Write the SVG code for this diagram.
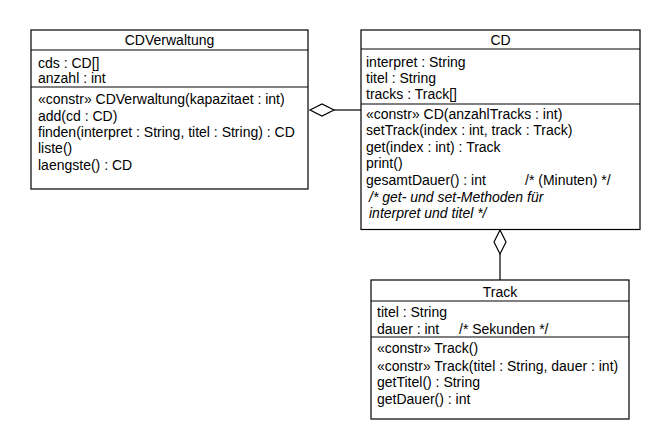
<svg xmlns="http://www.w3.org/2000/svg" width="660" height="440" viewBox="0 0 660 440">
<style>
.box{fill:#fff;stroke:#000;stroke-width:1.2}
.sep{stroke:#000;stroke-width:1.2}
text{font-family:"Liberation Sans",Arial,sans-serif;font-size:14px;fill:#000}
.t{text-anchor:middle}
.i{font-style:italic}
.line{stroke:#000;stroke-width:1.2;fill:none}
.dia{fill:#fff;stroke:#000;stroke-width:1.2}
</style>
<rect width="660" height="440" fill="#fff"/>
<g id="connectors">
<line class="line" x1="334" y1="110" x2="361" y2="110"/>
<polygon class="dia" points="310,110 322,104 334,110 322,116"/>
<line class="line" x1="500" y1="254" x2="500" y2="280"/>
<polygon class="dia" points="500,230 506,242 500,254 494,242"/>
</g>
<g id="CDVerwaltung">
<rect class="box" x="31" y="30" width="277" height="159"/>
<line class="sep" x1="31" y1="50" x2="308" y2="50"/>
<line class="sep" x1="31" y1="87" x2="308" y2="87"/>
<text class="t" x="169.5" y="45">CDVerwaltung</text>
<text x="38" y="68">cds : CD[]</text>
<text x="38" y="83">anzahl : int</text>
<text x="38" y="104">«constr» CDVerwaltung(kapazitaet : int)</text>
<text x="38" y="121">add(cd : CD)</text>
<text x="38" y="137">finden(interpret : String, titel : String) : CD</text>
<text x="38" y="153">liste()</text>
<text x="38" y="170">laengste() : CD</text>
</g>
<g id="CD">
<rect class="box" x="361" y="30" width="279" height="199.5"/>
<line class="sep" x1="361" y1="49" x2="640" y2="49"/>
<line class="sep" x1="361" y1="104" x2="640" y2="104"/>
<text class="t" x="500.5" y="45">CD</text>
<text x="366" y="67">interpret : String</text>
<text x="366" y="83">titel : String</text>
<text x="366" y="99">tracks : Track[]</text>
<text x="366" y="119">«constr» CD(anzahlTracks : int)</text>
<text x="366" y="135">setTrack(index : int, track : Track)</text>
<text x="366" y="152">get(index : int) : Track</text>
<text x="366" y="168">print()</text>
<text x="366" y="185">gesamtDauer() : int<tspan x="525">/* (Minuten) */</tspan></text>
<text class="i" x="369" y="202">/* get- und set-Methoden für</text>
<text class="i" x="369" y="218">interpret und titel */</text>
</g>
<g id="Track">
<rect class="box" x="371" y="280" width="258" height="139"/>
<line class="sep" x1="371" y1="301" x2="629" y2="301"/>
<line class="sep" x1="371" y1="337" x2="629" y2="337"/>
<text class="t" x="500" y="297">Track</text>
<text x="377" y="317">titel : String</text>
<text x="377" y="334">dauer : int<tspan x="459">/* Sekunden */</tspan></text>
<text x="377" y="353">«constr» Track()</text>
<text x="377" y="371">«constr» Track(titel : String, dauer : int)</text>
<text x="377" y="387">getTitel() : String</text>
<text x="377" y="404">getDauer() : int</text>
</g>
</svg>
